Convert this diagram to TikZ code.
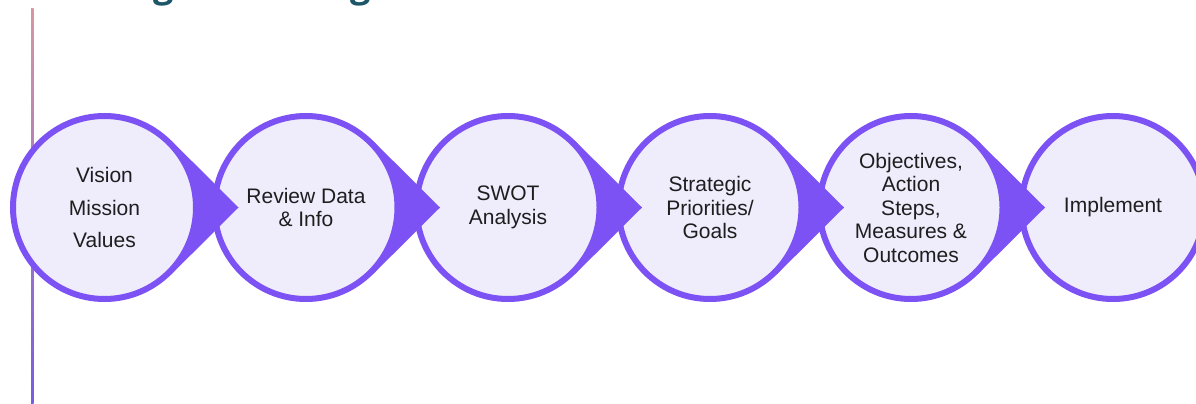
\documentclass[tikz,border=0pt]{standalone}
\usepackage{fontspec}
\setmainfont{Liberation Sans}
\newfontfamily\titlefont{Open Sans}
\usetikzlibrary{calc}

\definecolor{ringpurple}{RGB}{124,82,244}
\definecolor{ringfill}{RGB}{239,236,252}
\definecolor{titleteal}{RGB}{28,86,104}
\definecolor{inktext}{RGB}{30,30,30}
\definecolor{railtop}{RGB}{214,150,162}
\definecolor{railbottom}{RGB}{120,92,226}

\begin{document}
\begin{tikzpicture}[x=1pt,y=-1pt,
  stepcircle/.style={circle, draw=ringpurple, line width=6pt, fill=ringfill,
    minimum size=183pt, inner sep=0pt, align=center, text=inktext,
    font=\fontsize{21}{23.5}\selectfont},
  pointer/.style={fill=ringpurple}]
\useasboundingbox (0,0) rectangle (1196,404);
\fill[white] (0,0) rectangle (1196,404);

% heading, only its lowest strokes fall inside the page
\begin{scope}
  \clip (0,0) rectangle (1196,404);
  \node[anchor=base west, inner sep=0pt, text=titleteal,
        font=\titlefont\bfseries\fontsize{36}{40}\selectfont]
        (title) at (44,-2.8) {Strategic Planning};
\end{scope}

% vertical rail on the left
\shade[top color=railtop, bottom color=railbottom] (31,9) rectangle (33.5,404);

% circle centres and pointer tips
\coordinate (c1) at (104.5,207.5);
\coordinate (c2) at (306,207.5);
\coordinate (c3) at (508,207.5);
\coordinate (c4) at (710,207.5);
\coordinate (c5) at (911,207.5);
\coordinate (c6) at (1113,207.5);
\foreach \i in {1,...,5} {
  \coordinate (t\i) at ($(c\i)+(134,0)$);
}

% drawn right to left so each pointer lies over the next circle
\node[stepcircle] (s6) at (c6) {Implement};

\fill[pointer] (c5) -- ($(c5)+(45.2:94.5)$) -- (t5) -- ($(c5)+(-45.2:94.5)$) -- cycle;
\node[stepcircle] (s5) at (c5) {Objectives,\\Action\\Steps,\\Measures \&\\Outcomes};

\fill[pointer] (c4) -- ($(c4)+(45.2:94.5)$) -- (t4) -- ($(c4)+(-45.2:94.5)$) -- cycle;
\node[stepcircle] (s4) at (c4) {Strategic\\Priorities/\\Goals};

\fill[pointer] (c3) -- ($(c3)+(45.2:94.5)$) -- (t3) -- ($(c3)+(-45.2:94.5)$) -- cycle;
\node[stepcircle] (s3) at (c3) {SWOT\\Analysis};

\fill[pointer] (c2) -- ($(c2)+(45.2:94.5)$) -- (t2) -- ($(c2)+(-45.2:94.5)$) -- cycle;
\node[stepcircle] (s2) at (c2) {Review Data\\\& Info};

\fill[pointer] (c1) -- ($(c1)+(45.2:94.5)$) -- (t1) -- ($(c1)+(-45.2:94.5)$) -- cycle;
\node[stepcircle] (s1) at (c1) {Vision\\[9pt]Mission\\[9pt]Values};
\end{tikzpicture}
\end{document}
